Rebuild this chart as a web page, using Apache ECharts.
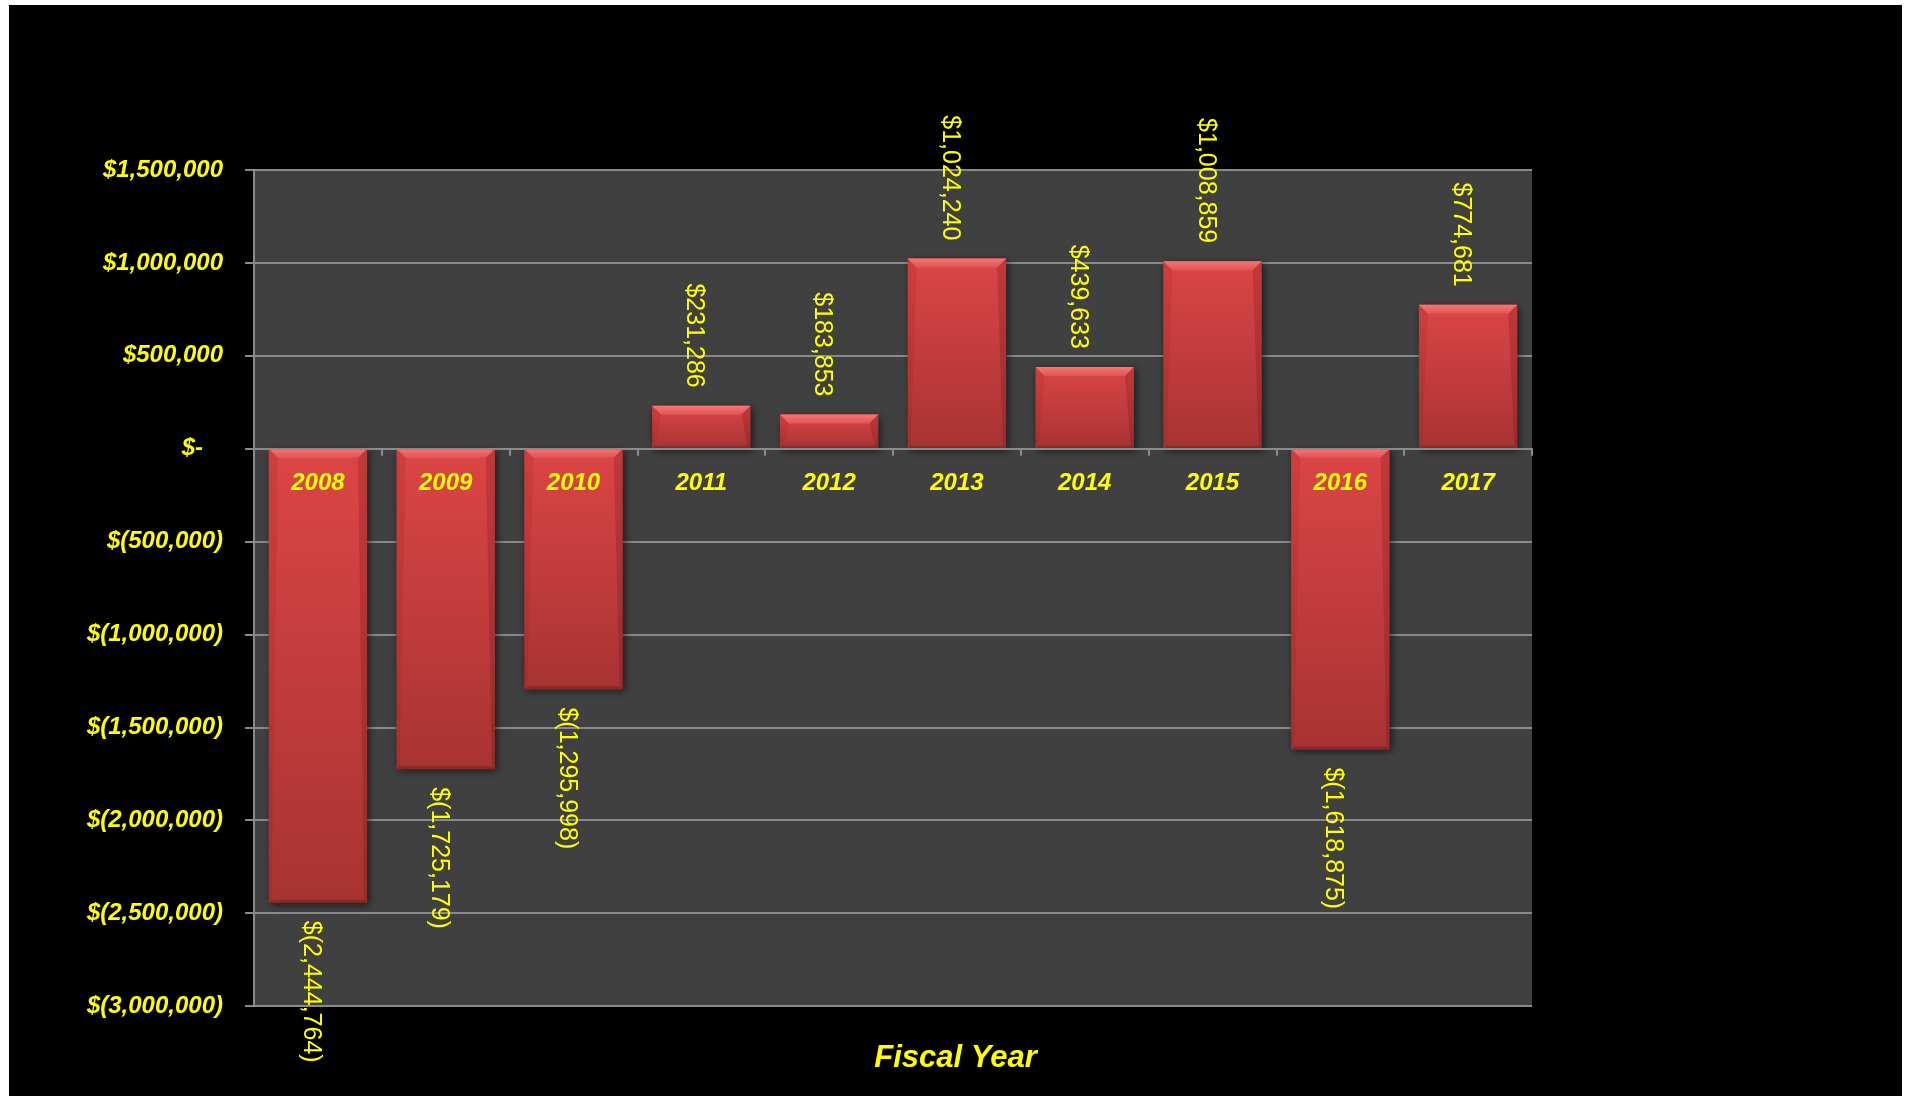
<!DOCTYPE html>
<html>
<head>
<meta charset="utf-8">
<title>Net Result by Fiscal Year</title>
<script src="https://cdn.jsdelivr.net/npm/echarts@6/dist/echarts.min.js"></script>
<style>
  html, body { margin: 0; padding: 0; background: #ffffff; }
  #chart { position: absolute; left: 9px; top: 5px; width: 1893px; height: 1091px; }
</style>
</head>
<body>
<div id="chart"></div>
<script>
// Fiscal years on the category axis
const years = ['2008', '2009', '2010', '2011', '2012', '2013', '2014', '2015', '2016', '2017'];

// Net result per fiscal year, in dollars
const netValues = [-2444764, -1725179, -1295998, 231286, 183853, 1024240, 439633, 1008859, -1618875, 774681];

// Value axis ticks, bottom to top
const yTickValues = [-3000000, -2500000, -2000000, -1500000, -1000000, -500000, 0, 500000, 1000000, 1500000];
const yTickLabels = ['$(3,000,000)', '$(2,500,000)', '$(2,000,000)', '$(1,500,000)', '$(1,000,000)',
                     '$(500,000)', '$-   ', '$500,000', '$1,000,000', '$1,500,000'];

const YELLOW = '#ffff00';
const GRID_GRAY = '#8a8a8a';
const FONT = '"Liberation Sans", Arial, sans-serif';
const BAR_RATIO = 0.77;

function withCommas(n) {
  return String(Math.round(Math.abs(n))).replace(/\B(?=(\d{3})+(?!\d))/g, ',');
}
function money(v) {
  return v < 0 ? '$(' + withCommas(v) + ')' : '$' + withCommas(v);
}

const barData = netValues.map(function (v) {
  return {
    value: v,
    label: v >= 0
      ? { position: 'top', align: 'right' }
      : { position: 'bottom', align: 'left' }
  };
});

const chart = echarts.init(document.getElementById('chart'));

chart.setOption({
  backgroundColor: '#000000',
  animation: false,
  title: {
    text: 'Fiscal Year',
    left: 'center',
    top: 1033,
    textStyle: { color: YELLOW, fontSize: 31, fontWeight: 'bold', fontStyle: 'italic', fontFamily: FONT }
  },
  grid: {
    left: 245, top: 165, right: 370, bottom: 90,
    show: true, backgroundColor: '#404040', borderWidth: 0
  },
  xAxis: {
    type: 'category',
    data: years,
    z: 10,
    axisLine: { show: true, onZero: true, lineStyle: { color: GRID_GRAY, width: 2 } },
    axisTick: { show: true, length: 7, lineStyle: { color: GRID_GRAY, width: 2 } },
    axisLabel: { show: false },
    splitLine: { show: false }
  },
  yAxis: {
    type: 'value',
    min: yTickValues[0],
    max: yTickValues[yTickValues.length - 1],
    interval: yTickValues[1] - yTickValues[0],
    axisLine: { show: true, lineStyle: { color: GRID_GRAY, width: 2 } },
    axisTick: { show: true, length: 9, lineStyle: { color: GRID_GRAY, width: 2 } },
    splitLine: { show: true, lineStyle: { color: GRID_GRAY, width: 2 } },
    axisLabel: {
      color: YELLOW, fontSize: 24, fontWeight: 'bold', fontStyle: 'italic', fontFamily: FONT, margin: 31,
      formatter: function (v) {
        const i = yTickValues.indexOf(v);
        return i >= 0 ? yTickLabels[i] : money(v);
      }
    }
  },
  series: [
    {
      type: 'bar',
      data: barData,
      barWidth: (BAR_RATIO * 100) + '%',
      z: 2,
      itemStyle: {
        color: {
          type: 'linear', x: 0, y: 0, x2: 0, y2: 1,
          colorStops: [
            { offset: 0, color: '#dc4545' },
            { offset: 1, color: '#a83333' }
          ]
        },
        shadowBlur: 8,
        shadowColor: 'rgba(0,0,0,0.6)',
        shadowOffsetX: 2,
        shadowOffsetY: 2
      },
      label: {
        show: true,
        rotate: -90,
        verticalAlign: 'middle',
        distance: 18,
        offset: [0, 7],
        color: YELLOW,
        fontSize: 25,
        fontFamily: FONT,
        formatter: function (p) { return money(p.value); }
      }
    },
    {
      // bevelled edges over each bar, plus the year written just under the zero line
      type: 'custom',
      z: 3,
      silent: true,
      data: netValues.map(function (v, i) { return [i, v]; }),
      encode: { x: 0, y: 1 },
      renderItem: function (params, api) {
        const i = api.value(0);
        const v = api.value(1);
        const base = api.coord([i, 0]);
        const end = api.coord([i, v]);
        const w = api.size([1, 0])[0] * BAR_RATIO;
        const x0 = base[0] - w / 2;
        const x1 = base[0] + w / 2;
        const top = Math.min(base[1], end[1]);
        const bot = Math.max(base[1], end[1]);
        const b = Math.min(9, (bot - top) / 2);
        const s = 3;
        return {
          type: 'group',
          children: [
            {
              type: 'polygon',
              shape: { points: [[x0, top], [x1, top], [x1 - b, top + b], [x0 + b, top + b]] },
              style: {
                fill: {
                  type: 'linear', x: 0, y: 0, x2: 0, y2: 1,
                  colorStops: [
                    { offset: 0, color: '#f67676' },
                    { offset: 1, color: '#e25454' }
                  ]
                }
              }
            },
            {
              type: 'polygon',
              shape: { points: [[x0, top], [x0 + b, top + b], [x0 + s, bot - s], [x0, bot]] },
              style: { fill: 'rgba(120,20,20,0.12)' }
            },
            {
              type: 'polygon',
              shape: { points: [[x1, top], [x1 - b, top + b], [x1 - s, bot - s], [x1, bot]] },
              style: { fill: 'rgba(90,10,10,0.2)' }
            },
            {
              type: 'polygon',
              shape: { points: [[x0, bot], [x1, bot], [x1 - s, bot - s], [x0 + s, bot - s]] },
              style: { fill: 'rgba(80,10,10,0.3)' }
            },
            {
              type: 'text',
              x: base[0],
              y: base[1] + 35,
              style: {
                text: years[i],
                fill: YELLOW,
                fontSize: 24,
                fontWeight: 'bold',
                fontStyle: 'italic',
                fontFamily: FONT,
                align: 'center',
                verticalAlign: 'middle'
              }
            }
          ]
        };
      }
    }
  ]
});
</script>
</body>
</html>
